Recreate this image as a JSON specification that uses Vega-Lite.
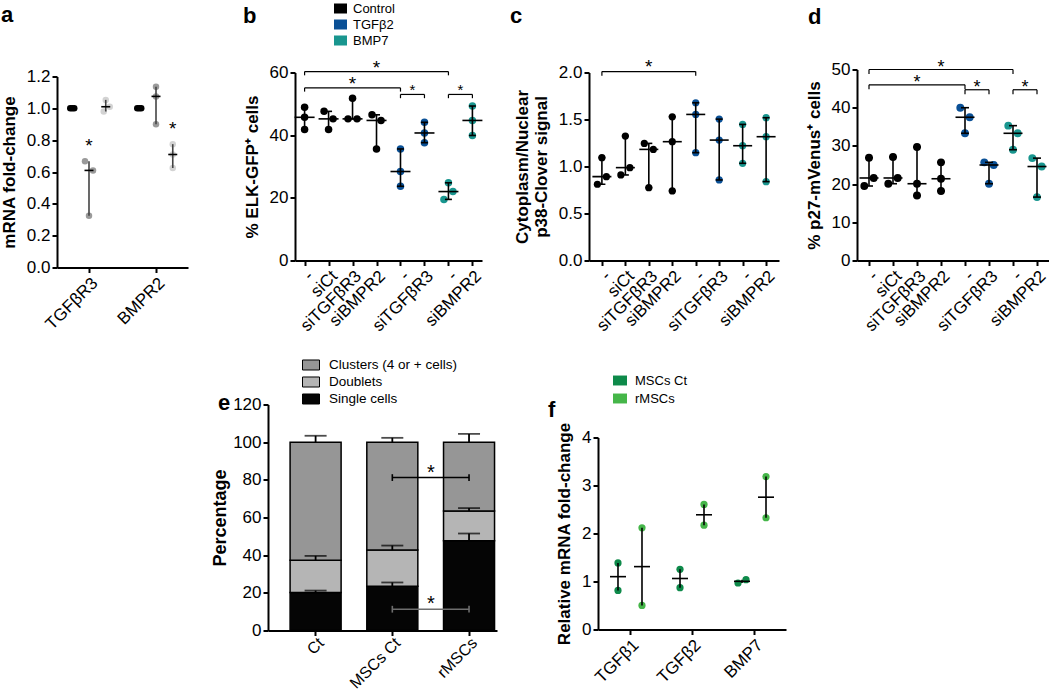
{
  "$schema": "https://vega.github.io/schema/vega-lite/v6.json",
  "padding": {"left": 0, "top": 1.5, "right": 0, "bottom": 0},
  "background": "white",
  "bounds": "flush",
  "columns": 7,
  "align": "each",
  "spacing": {"row": 137, "column": 0},
  "resolve": {"scale": {"color": "independent", "xOffset": "independent"}, "legend": {"color": "independent"}},
  "config": {
    "font": "Liberation Sans",
    "view": {"stroke": null},
    "axis": {"domainColor": "#000", "domainWidth": 2, "tickColor": "#000", "tickWidth": 2, "tickSize": 5, "labelFontSize": 17, "labelColor": "#000", "labelFont": "Liberation Sans", "titleFont": "Liberation Sans", "titleFontSize": 17, "titleFontWeight": "bold", "titleColor": "#000", "grid": false, "labelPadding": 2, "titlePadding": 8, "labelOverlap": false},
    "axisX": {"labelAngle": -45},
    "legend": {"padding": 0, "labelColor": "#000", "labelFont": "Liberation Sans"},
    "title": {"fontSize": 22, "fontWeight": "bold", "anchor": "start", "frame": "group", "color": "#000", "font": "Liberation Sans", "offset": 0}
  },
  "datasets": {
    "a": [
      {"slot": "TGFβR3|siCt", "treat": "siCt", "lane": "l", "v": 1.0},
      {"slot": "TGFβR3|siCt", "treat": "siCt", "lane": "C", "v": 1.0},
      {"slot": "TGFβR3|siCt", "treat": "siCt", "lane": "r", "v": 1.0},
      {"slot": "TGFβR3|siTGFβR3", "treat": "siTGFβR3", "lane": "L", "v": 0.667},
      {"slot": "TGFβR3|siTGFβR3", "treat": "siTGFβR3", "lane": "R", "v": 0.61},
      {"slot": "TGFβR3|siTGFβR3", "treat": "siTGFβR3", "lane": "C", "v": 0.325},
      {"slot": "TGFβR3|siBMPR2", "treat": "siBMPR2", "lane": "C", "v": 1.053},
      {"slot": "TGFβR3|siBMPR2", "treat": "siBMPR2", "lane": "R", "v": 1.01},
      {"slot": "TGFβR3|siBMPR2", "treat": "siBMPR2", "lane": "l", "v": 0.98},
      {"slot": "BMPR2|siCt", "treat": "siCt", "lane": "l", "v": 1.0},
      {"slot": "BMPR2|siCt", "treat": "siCt", "lane": "C", "v": 1.0},
      {"slot": "BMPR2|siCt", "treat": "siCt", "lane": "r", "v": 1.0},
      {"slot": "BMPR2|siTGFβR3", "treat": "siTGFβR3", "lane": "C", "v": 1.135},
      {"slot": "BMPR2|siTGFβR3", "treat": "siTGFβR3", "lane": "C", "v": 1.075},
      {"slot": "BMPR2|siTGFβR3", "treat": "siTGFβR3", "lane": "C", "v": 0.9},
      {"slot": "BMPR2|siBMPR2", "treat": "siBMPR2", "lane": "C", "v": 0.775},
      {"slot": "BMPR2|siBMPR2", "treat": "siBMPR2", "lane": "C", "v": 0.71},
      {"slot": "BMPR2|siBMPR2", "treat": "siBMPR2", "lane": "C", "v": 0.625}
    ],
    "aStar": [
      {"slot": "TGFβR3|siTGFβR3", "v": 0.724},
      {"slot": "BMPR2|siBMPR2", "v": 0.83}
    ],
    "b": [
      {"grp": "Control|-", "treat": "Control", "lane": "C", "v": 48.9},
      {"grp": "Control|-", "treat": "Control", "lane": "C", "v": 45.7},
      {"grp": "Control|-", "treat": "Control", "lane": "C", "v": 41.8},
      {"grp": "Control|siCt", "treat": "Control", "lane": "L", "v": 47.6},
      {"grp": "Control|siCt", "treat": "Control", "lane": "R", "v": 45.2},
      {"grp": "Control|siCt", "treat": "Control", "lane": "C", "v": 41.8},
      {"grp": "Control|siTGFβR3", "treat": "Control", "lane": "C", "v": 51.8},
      {"grp": "Control|siTGFβR3", "treat": "Control", "lane": "L", "v": 45.2},
      {"grp": "Control|siTGFβR3", "treat": "Control", "lane": "R", "v": 45.2},
      {"grp": "Control|siBMPR2", "treat": "Control", "lane": "L", "v": 46.5},
      {"grp": "Control|siBMPR2", "treat": "Control", "lane": "R", "v": 44.7},
      {"grp": "Control|siBMPR2", "treat": "Control", "lane": "C", "v": 35.6},
      {"grp": "TGFβ2|-", "treat": "TGFβ2", "lane": "C", "v": 35.6},
      {"grp": "TGFβ2|-", "treat": "TGFβ2", "lane": "C", "v": 28.4},
      {"grp": "TGFβ2|-", "treat": "TGFβ2", "lane": "C", "v": 23.7},
      {"grp": "TGFβ2|siTGFβR3", "treat": "TGFβ2", "lane": "C", "v": 44.1},
      {"grp": "TGFβ2|siTGFβR3", "treat": "TGFβ2", "lane": "C", "v": 40.7},
      {"grp": "TGFβ2|siTGFβR3", "treat": "TGFβ2", "lane": "C", "v": 37.6},
      {"grp": "BMP7|-", "treat": "BMP7", "lane": "C", "v": 24.8},
      {"grp": "BMP7|-", "treat": "BMP7", "lane": "R", "v": 22.0},
      {"grp": "BMP7|-", "treat": "BMP7", "lane": "L", "v": 19.5},
      {"grp": "BMP7|siBMPR2", "treat": "BMP7", "lane": "C", "v": 49.3},
      {"grp": "BMP7|siBMPR2", "treat": "BMP7", "lane": "C", "v": 44.7},
      {"grp": "BMP7|siBMPR2", "treat": "BMP7", "lane": "C", "v": 39.9}
    ],
    "bBr": [
      {"from": "Control|-", "to": "BMP7|-", "y": 60.3, "lo": 59.1, "mid": "Control|siBMPR2", "half": false},
      {"from": "Control|-", "to": "TGFβ2|-", "y": 55.1, "lo": 53.9, "mid": "Control|siTGFβR3", "half": false},
      {"from": "TGFβ2|-", "to": "TGFβ2|siTGFβR3", "y": 53.0, "lo": 51.8, "mid": "TGFβ2|-", "half": true},
      {"from": "BMP7|-", "to": "BMP7|siBMPR2", "y": 53.0, "lo": 51.8, "mid": "BMP7|-", "half": true}
    ],
    "c": [
      {"grp": "Control|-", "treat": "Control", "lane": "C", "v": 1.094},
      {"grp": "Control|-", "treat": "Control", "lane": "R", "v": 0.892},
      {"grp": "Control|-", "treat": "Control", "lane": "L", "v": 0.811},
      {"grp": "Control|siCt", "treat": "Control", "lane": "C", "v": 1.324},
      {"grp": "Control|siCt", "treat": "Control", "lane": "R", "v": 0.988},
      {"grp": "Control|siCt", "treat": "Control", "lane": "L", "v": 0.91},
      {"grp": "Control|siTGFβR3", "treat": "Control", "lane": "L", "v": 1.246},
      {"grp": "Control|siTGFβR3", "treat": "Control", "lane": "R", "v": 1.182},
      {"grp": "Control|siTGFβR3", "treat": "Control", "lane": "C", "v": 0.775},
      {"grp": "Control|siBMPR2", "treat": "Control", "lane": "C", "v": 1.529},
      {"grp": "Control|siBMPR2", "treat": "Control", "lane": "C", "v": 1.264},
      {"grp": "Control|siBMPR2", "treat": "Control", "lane": "C", "v": 0.74},
      {"grp": "TGFβ2|-", "treat": "TGFβ2", "lane": "C", "v": 1.678},
      {"grp": "TGFβ2|-", "treat": "TGFβ2", "lane": "C", "v": 1.554},
      {"grp": "TGFβ2|-", "treat": "TGFβ2", "lane": "C", "v": 1.147},
      {"grp": "TGFβ2|siTGFβR3", "treat": "TGFβ2", "lane": "C", "v": 1.504},
      {"grp": "TGFβ2|siTGFβR3", "treat": "TGFβ2", "lane": "C", "v": 1.281},
      {"grp": "TGFβ2|siTGFβR3", "treat": "TGFβ2", "lane": "C", "v": 0.857},
      {"grp": "BMP7|-", "treat": "BMP7", "lane": "C", "v": 1.448},
      {"grp": "BMP7|-", "treat": "BMP7", "lane": "C", "v": 1.221},
      {"grp": "BMP7|-", "treat": "BMP7", "lane": "C", "v": 1.034},
      {"grp": "BMP7|siBMPR2", "treat": "BMP7", "lane": "C", "v": 1.519},
      {"grp": "BMP7|siBMPR2", "treat": "BMP7", "lane": "C", "v": 1.317},
      {"grp": "BMP7|siBMPR2", "treat": "BMP7", "lane": "C", "v": 0.839}
    ],
    "cBr": [
      {"from": "Control|-", "to": "TGFβ2|-", "y": 2.01, "lo": 1.965, "mid": "Control|siTGFβR3", "half": false}
    ],
    "d": [
      {"grp": "Control|-", "treat": "Control", "lane": "C", "v": 26.9},
      {"grp": "Control|-", "treat": "Control", "lane": "R", "v": 21.6},
      {"grp": "Control|-", "treat": "Control", "lane": "L", "v": 19.5},
      {"grp": "Control|siCt", "treat": "Control", "lane": "C", "v": 27.1},
      {"grp": "Control|siCt", "treat": "Control", "lane": "R", "v": 21.6},
      {"grp": "Control|siCt", "treat": "Control", "lane": "L", "v": 20.1},
      {"grp": "Control|siTGFβR3", "treat": "Control", "lane": "C", "v": 29.7},
      {"grp": "Control|siTGFβR3", "treat": "Control", "lane": "C", "v": 20.1},
      {"grp": "Control|siTGFβR3", "treat": "Control", "lane": "C", "v": 17.0},
      {"grp": "Control|siBMPR2", "treat": "Control", "lane": "C", "v": 25.7},
      {"grp": "Control|siBMPR2", "treat": "Control", "lane": "C", "v": 21.4},
      {"grp": "Control|siBMPR2", "treat": "Control", "lane": "C", "v": 18.2},
      {"grp": "TGFβ2|-", "treat": "TGFβ2", "lane": "L", "v": 40.0},
      {"grp": "TGFβ2|-", "treat": "TGFβ2", "lane": "R", "v": 37.5},
      {"grp": "TGFβ2|-", "treat": "TGFβ2", "lane": "C", "v": 33.3},
      {"grp": "TGFβ2|siTGFβR3", "treat": "TGFβ2", "lane": "L", "v": 25.7},
      {"grp": "TGFβ2|siTGFβR3", "treat": "TGFβ2", "lane": "R", "v": 25.0},
      {"grp": "TGFβ2|siTGFβR3", "treat": "TGFβ2", "lane": "C", "v": 20.1},
      {"grp": "BMP7|-", "treat": "BMP7", "lane": "L", "v": 35.3},
      {"grp": "BMP7|-", "treat": "BMP7", "lane": "R", "v": 33.3},
      {"grp": "BMP7|-", "treat": "BMP7", "lane": "C", "v": 29.0},
      {"grp": "BMP7|siBMPR2", "treat": "BMP7", "lane": "L", "v": 26.8},
      {"grp": "BMP7|siBMPR2", "treat": "BMP7", "lane": "R", "v": 24.6},
      {"grp": "BMP7|siBMPR2", "treat": "BMP7", "lane": "C", "v": 16.6}
    ],
    "dBr": [
      {"from": "Control|-", "to": "BMP7|-", "y": 50.0, "lo": 48.8, "mid": "Control|siBMPR2", "half": false},
      {"from": "Control|-", "to": "TGFβ2|-", "y": 46.0, "lo": 44.8, "mid": "Control|siTGFβR3", "half": false},
      {"from": "TGFβ2|-", "to": "TGFβ2|siTGFβR3", "y": 44.7, "lo": 43.5, "mid": "TGFβ2|-", "half": true},
      {"from": "BMP7|-", "to": "BMP7|siBMPR2", "y": 44.7, "lo": 43.5, "mid": "BMP7|-", "half": true}
    ],
    "e": [
      {"sample": "Ct", "type": "Single cells", "ord": 1, "value": 20.2, "cap": 21.2},
      {"sample": "Ct", "type": "Doublets", "ord": 2, "value": 17.1, "cap": 39.6},
      {"sample": "Ct", "type": "Clusters (4 or + cells)", "ord": 3, "value": 62.7, "cap": 103.4},
      {"sample": "MSCs Ct", "type": "Single cells", "ord": 1, "value": 23.5, "cap": 25.5},
      {"sample": "MSCs Ct", "type": "Doublets", "ord": 2, "value": 19.2, "cap": 45.1},
      {"sample": "MSCs Ct", "type": "Clusters (4 or + cells)", "ord": 3, "value": 57.3, "cap": 102.3},
      {"sample": "rMSCs", "type": "Single cells", "ord": 1, "value": 47.6, "cap": 51.5},
      {"sample": "rMSCs", "type": "Doublets", "ord": 2, "value": 15.9, "cap": 65.0},
      {"sample": "rMSCs", "type": "Clusters (4 or + cells)", "ord": 3, "value": 36.5, "cap": 104.4}
    ],
    "eBr": [
      {"br": "up", "sample": "MSCs Ct", "y": 81.2, "lo": 79.4, "hi": 83.0},
      {"br": "up", "sample": "rMSCs", "y": 81.2, "lo": 79.4, "hi": 83.0},
      {"br": "down", "sample": "MSCs Ct", "y": 11.3, "lo": 9.5, "hi": 13.1},
      {"br": "down", "sample": "rMSCs", "y": 11.3, "lo": 9.5, "hi": 13.1}
    ],
    "f": [
      {"gene": "TGFβ1", "group": "MSCs Ct", "pos": "MSCs Ct", "v": 1.387},
      {"gene": "TGFβ1", "group": "MSCs Ct", "pos": "MSCs Ct", "v": 0.815},
      {"gene": "TGFβ1", "group": "rMSCs", "pos": "rMSCs", "v": 2.118},
      {"gene": "TGFβ1", "group": "rMSCs", "pos": "rMSCs", "v": 0.502},
      {"gene": "TGFβ2", "group": "MSCs Ct", "pos": "MSCs Ct", "v": 1.254},
      {"gene": "TGFβ2", "group": "MSCs Ct", "pos": "MSCs Ct", "v": 0.871},
      {"gene": "TGFβ2", "group": "rMSCs", "pos": "rMSCs", "v": 2.606},
      {"gene": "TGFβ2", "group": "rMSCs", "pos": "rMSCs", "v": 2.174},
      {"gene": "BMP7", "group": "MSCs Ct", "pos": "MSCs Ct L", "v": 0.969},
      {"gene": "BMP7", "group": "MSCs Ct", "pos": "MSCs Ct R", "v": 1.038},
      {"gene": "BMP7", "group": "rMSCs", "pos": "rMSCs", "v": 3.185},
      {"gene": "BMP7", "group": "rMSCs", "pos": "rMSCs", "v": 2.328}
    ]
  },
  "concat": [
    {
      "width": 131, "height": 198,
      "title": {"text": "a", "dx": -56, "dy": -37},
      "layer": [
        {"data": {"name": "a"}, "mark": {"type": "circle", "size": 42, "opacity": 1},
         "encoding": {
           "x": {"field": "slot", "type": "nominal", "title": null, "scale": {"type": "point", "domain": ["TGFβR3|siCt", "TGFβR3|siTGFβR3", "TGFβR3|siBMPR2", "gap", "BMPR2|siCt", "BMPR2|siTGFβR3", "BMPR2|siBMPR2"], "padding": 0.91},
                 "axis": {"values": ["TGFβR3|siTGFβR3", "BMPR2|siTGFβR3"], "labelExpr": "split(datum.value, '|')[0]"}},
           "xOffset": {"field": "lane", "type": "nominal", "scale": {"type": "point", "domain": ["L", "l", "C", "r", "R"], "range": [-4, 4], "padding": 0}},
           "y": {"field": "v", "type": "quantitative", "title": "mRNA fold-change", "scale": {"domain": [0, 1.2], "range": [198, 7], "nice": false}, "axis": {"values": [0, 0.2, 0.4, 0.6, 0.8, 1.0, 1.2], "format": ".1f", "tickCount": 12}},
           "color": {"field": "treat", "type": "nominal", "scale": {"domain": ["siCt", "siTGFβR3", "siBMPR2"], "range": ["#000000", "#9a9a9a", "#d3d3d3"]}, "legend": null}
         }},
        {"data": {"name": "a"}, "mark": {"type": "rule", "color": "#444", "strokeWidth": 1.6},
         "encoding": {
           "x": {"field": "slot", "type": "nominal", "title": null, "scale": {"type": "point", "domain": ["TGFβR3|siCt", "TGFβR3|siTGFβR3", "TGFβR3|siBMPR2", "gap", "BMPR2|siCt", "BMPR2|siTGFβR3", "BMPR2|siBMPR2"], "padding": 0.91}},
           "y": {"aggregate": "min", "field": "v", "type": "quantitative", "title": "mRNA fold-change"},
           "y2": {"aggregate": "max", "field": "v"}
         }},
        {"data": {"name": "a"}, "mark": {"type": "tick", "color": "#000", "size": 9, "thickness": 1.6},
         "encoding": {
           "x": {"field": "slot", "type": "nominal", "title": null, "scale": {"type": "point", "domain": ["TGFβR3|siCt", "TGFβR3|siTGFβR3", "TGFβR3|siBMPR2", "gap", "BMPR2|siCt", "BMPR2|siTGFβR3", "BMPR2|siBMPR2"], "padding": 0.91}},
           "y": {"aggregate": "median", "field": "v", "type": "quantitative", "title": "mRNA fold-change"}
         }},
        {"data": {"name": "aStar"}, "mark": {"type": "text", "text": "*", "fontSize": 19, "baseline": "alphabetic", "color": "#000"},
         "encoding": {
           "x": {"field": "slot", "type": "nominal", "title": null, "scale": {"type": "point", "domain": ["TGFβR3|siCt", "TGFβR3|siTGFβR3", "TGFβR3|siBMPR2", "gap", "BMPR2|siCt", "BMPR2|siTGFβR3", "BMPR2|siBMPR2"], "padding": 0.91}},
           "y": {"field": "v", "type": "quantitative", "title": "mRNA fold-change"}
         }}
      ]
    },
    {"width": 80, "height": 10, "data": {"values": []}, "mark": "point"},
    {
      "width": 214, "height": 191,
      "title": {"text": "b", "dx": -25, "dy": 30},
      "layer": [
        {"data": {"name": "b"}, "mark": {"type": "circle", "size": 56, "opacity": 1},
         "encoding": {
           "x": {"field": "grp", "type": "nominal", "title": null, "scale": {"type": "point", "domain": ["Control|-", "Control|siCt", "Control|siTGFβR3", "Control|siBMPR2", "TGFβ2|-", "TGFβ2|siTGFβR3", "BMP7|-", "BMP7|siBMPR2"], "padding": 0.4, "range": [27, 214]},
                 "axis": {"labelExpr": "split(datum.value, '|')[1]"}},
           "xOffset": {"field": "lane", "type": "nominal", "scale": {"type": "point", "domain": ["L", "C", "R"], "range": [-4.5, 4.5], "padding": 0}},
           "y": {"field": "v", "type": "quantitative", "title": "% ELK-GFP⁺ cells", "scale": {"domain": [0, 60], "range": [191, 3], "nice": false}, "axis": {"values": [0, 20, 40, 60], "offset": -27, "tickCount": 12}},
           "color": {"field": "treat", "type": "nominal", "scale": {"domain": ["Control", "TGFβ2", "BMP7"], "range": ["#000000", "#0a5096", "#19968f"]},
                     "legend": {"orient": "none", "legendX": 66, "legendY": -67.5, "title": null, "symbolType": "M-1,-0.77H1V0.77H-1Z", "symbolSize": 169, "symbolStrokeWidth": 0, "symbolOpacity": 1, "labelFontSize": 13, "labelOffset": 6, "rowPadding": 2}}
         }},
        {"data": {"name": "b"}, "mark": {"type": "rule", "color": "#000", "strokeWidth": 1.6},
         "encoding": {
           "x": {"field": "grp", "type": "nominal", "title": null, "scale": {"type": "point", "domain": ["Control|-", "Control|siCt", "Control|siTGFβR3", "Control|siBMPR2", "TGFβ2|-", "TGFβ2|siTGFβR3", "BMP7|-", "BMP7|siBMPR2"], "padding": 0.4, "range": [27, 214]}},
           "y": {"aggregate": "min", "field": "v", "type": "quantitative", "title": "% ELK-GFP⁺ cells"},
           "y2": {"aggregate": "max", "field": "v"}
         }},
        {"data": {"name": "b"}, "mark": {"type": "tick", "color": "#000", "size": 20, "thickness": 1.6},
         "encoding": {
           "x": {"field": "grp", "type": "nominal", "title": null, "scale": {"type": "point", "domain": ["Control|-", "Control|siCt", "Control|siTGFβR3", "Control|siBMPR2", "TGFβ2|-", "TGFβ2|siTGFβR3", "BMP7|-", "BMP7|siBMPR2"], "padding": 0.4, "range": [27, 214]}},
           "y": {"aggregate": "median", "field": "v", "type": "quantitative", "title": "% ELK-GFP⁺ cells"}
         }},
        {"data": {"name": "b"}, "mark": {"type": "tick", "color": "#000", "size": 7, "thickness": 1.6},
         "encoding": {
           "x": {"field": "grp", "type": "nominal", "title": null, "scale": {"type": "point", "domain": ["Control|-", "Control|siCt", "Control|siTGFβR3", "Control|siBMPR2", "TGFβ2|-", "TGFβ2|siTGFβR3", "BMP7|-", "BMP7|siBMPR2"], "padding": 0.4, "range": [27, 214]}},
           "y": {"aggregate": "min", "field": "v", "type": "quantitative", "title": "% ELK-GFP⁺ cells"}
         }},
        {"data": {"name": "b"}, "mark": {"type": "tick", "color": "#000", "size": 7, "thickness": 1.6},
         "encoding": {
           "x": {"field": "grp", "type": "nominal", "title": null, "scale": {"type": "point", "domain": ["Control|-", "Control|siCt", "Control|siTGFβR3", "Control|siBMPR2", "TGFβ2|-", "TGFβ2|siTGFβR3", "BMP7|-", "BMP7|siBMPR2"], "padding": 0.4, "range": [27, 214]}},
           "y": {"aggregate": "max", "field": "v", "type": "quantitative", "title": "% ELK-GFP⁺ cells"}
         }},
        {"data": {"name": "bBr"}, "mark": {"type": "rule", "color": "#000", "strokeWidth": 1.2},
         "encoding": {
           "x": {"field": "from", "type": "nominal", "title": null, "scale": {"type": "point", "domain": ["Control|-", "Control|siCt", "Control|siTGFβR3", "Control|siBMPR2", "TGFβ2|-", "TGFβ2|siTGFβR3", "BMP7|-", "BMP7|siBMPR2"], "padding": 0.4, "range": [27, 214]}},
           "x2": {"field": "to"},
           "y": {"field": "y", "type": "quantitative", "title": "% ELK-GFP⁺ cells"}
         }},
        {"data": {"name": "bBr"}, "mark": {"type": "rule", "color": "#000", "strokeWidth": 1.2},
         "encoding": {
           "x": {"field": "from", "type": "nominal", "title": null, "scale": {"type": "point", "domain": ["Control|-", "Control|siCt", "Control|siTGFβR3", "Control|siBMPR2", "TGFβ2|-", "TGFβ2|siTGFβR3", "BMP7|-", "BMP7|siBMPR2"], "padding": 0.4, "range": [27, 214]}},
           "y": {"field": "lo", "type": "quantitative", "title": "% ELK-GFP⁺ cells"},
           "y2": {"field": "y"}
         }},
        {"data": {"name": "bBr"}, "mark": {"type": "rule", "color": "#000", "strokeWidth": 1.2},
         "encoding": {
           "x": {"field": "to", "type": "nominal", "title": null, "scale": {"type": "point", "domain": ["Control|-", "Control|siCt", "Control|siTGFβR3", "Control|siBMPR2", "TGFβ2|-", "TGFβ2|siTGFβR3", "BMP7|-", "BMP7|siBMPR2"], "padding": 0.4, "range": [27, 214]}},
           "y": {"field": "lo", "type": "quantitative", "title": "% ELK-GFP⁺ cells"},
           "y2": {"field": "y"}
         }},
        {"data": {"name": "bBr"}, "transform": [{"filter": "!datum.half"}], "mark": {"type": "text", "text": "*", "fontSize": 19, "baseline": "alphabetic", "color": "#000", "dy": 2},
         "encoding": {
           "x": {"field": "mid", "type": "nominal", "title": null, "scale": {"type": "point", "domain": ["Control|-", "Control|siCt", "Control|siTGFβR3", "Control|siBMPR2", "TGFβ2|-", "TGFβ2|siTGFβR3", "BMP7|-", "BMP7|siBMPR2"], "padding": 0.4, "range": [27, 214]}},
           "y": {"field": "y", "type": "quantitative", "title": "% ELK-GFP⁺ cells"}
         }},
        {"data": {"name": "bBr"}, "transform": [{"filter": "datum.half"}], "mark": {"type": "text", "text": "*", "fontSize": 15, "baseline": "alphabetic", "color": "#000", "dx": 12, "dy": 1},
         "encoding": {
           "x": {"field": "mid", "type": "nominal", "title": null, "scale": {"type": "point", "domain": ["Control|-", "Control|siCt", "Control|siTGFβR3", "Control|siBMPR2", "TGFβ2|-", "TGFβ2|siTGFβR3", "BMP7|-", "BMP7|siBMPR2"], "padding": 0.4, "range": [27, 214]}},
           "y": {"field": "y", "type": "quantitative", "title": "% ELK-GFP⁺ cells"}
         }}
      ]
    },
    {"width": 92, "height": 10, "data": {"values": []}, "mark": "point"},
    {
      "width": 190, "height": 191,
      "title": {"text": "c", "dx": -79, "dy": -26},
      "layer": [
        {"data": {"name": "c"}, "mark": {"type": "circle", "size": 52, "opacity": 1},
         "encoding": {
           "x": {"field": "grp", "type": "nominal", "title": null, "scale": {"type": "point", "domain": ["Control|-", "Control|siCt", "Control|siTGFβR3", "Control|siBMPR2", "TGFβ2|-", "TGFβ2|siTGFβR3", "BMP7|-", "BMP7|siBMPR2"], "padding": 0.55},
                 "axis": {"labelExpr": "split(datum.value, '|')[1]"}},
           "xOffset": {"field": "lane", "type": "nominal", "scale": {"type": "point", "domain": ["L", "C", "R"], "range": [-4.5, 4.5], "padding": 0}},
           "y": {"field": "v", "type": "quantitative", "title": ["Cytoplasm/Nuclear", "p38-Clover signal"], "scale": {"domain": [0, 2], "range": [191, 3], "nice": false}, "axis": {"values": [0, 0.5, 1, 1.5, 2], "format": ".1f", "titleLineHeight": 19, "tickCount": 12}},
           "color": {"field": "treat", "type": "nominal", "scale": {"domain": ["Control", "TGFβ2", "BMP7"], "range": ["#000000", "#0a5096", "#19968f"]}, "legend": null}
         }},
        {"data": {"name": "c"}, "mark": {"type": "rule", "color": "#000", "strokeWidth": 1.6},
         "encoding": {
           "x": {"field": "grp", "type": "nominal", "title": null, "scale": {"type": "point", "domain": ["Control|-", "Control|siCt", "Control|siTGFβR3", "Control|siBMPR2", "TGFβ2|-", "TGFβ2|siTGFβR3", "BMP7|-", "BMP7|siBMPR2"], "padding": 0.55}},
           "y": {"aggregate": "min", "field": "v", "type": "quantitative", "title": ["Cytoplasm/Nuclear", "p38-Clover signal"]},
           "y2": {"aggregate": "max", "field": "v"}
         }},
        {"data": {"name": "c"}, "mark": {"type": "tick", "color": "#000", "size": 19, "thickness": 1.6},
         "encoding": {
           "x": {"field": "grp", "type": "nominal", "title": null, "scale": {"type": "point", "domain": ["Control|-", "Control|siCt", "Control|siTGFβR3", "Control|siBMPR2", "TGFβ2|-", "TGFβ2|siTGFβR3", "BMP7|-", "BMP7|siBMPR2"], "padding": 0.55}},
           "y": {"aggregate": "median", "field": "v", "type": "quantitative", "title": ["Cytoplasm/Nuclear", "p38-Clover signal"]}
         }},
        {"data": {"name": "c"}, "mark": {"type": "tick", "color": "#000", "size": 7, "thickness": 1.6},
         "encoding": {
           "x": {"field": "grp", "type": "nominal", "title": null, "scale": {"type": "point", "domain": ["Control|-", "Control|siCt", "Control|siTGFβR3", "Control|siBMPR2", "TGFβ2|-", "TGFβ2|siTGFβR3", "BMP7|-", "BMP7|siBMPR2"], "padding": 0.55}},
           "y": {"aggregate": "min", "field": "v", "type": "quantitative", "title": ["Cytoplasm/Nuclear", "p38-Clover signal"]}
         }},
        {"data": {"name": "c"}, "mark": {"type": "tick", "color": "#000", "size": 7, "thickness": 1.6},
         "encoding": {
           "x": {"field": "grp", "type": "nominal", "title": null, "scale": {"type": "point", "domain": ["Control|-", "Control|siCt", "Control|siTGFβR3", "Control|siBMPR2", "TGFβ2|-", "TGFβ2|siTGFβR3", "BMP7|-", "BMP7|siBMPR2"], "padding": 0.55}},
           "y": {"aggregate": "max", "field": "v", "type": "quantitative", "title": ["Cytoplasm/Nuclear", "p38-Clover signal"]}
         }},
        {"data": {"name": "cBr"}, "mark": {"type": "rule", "color": "#000", "strokeWidth": 1.2},
         "encoding": {
           "x": {"field": "from", "type": "nominal", "title": null, "scale": {"type": "point", "domain": ["Control|-", "Control|siCt", "Control|siTGFβR3", "Control|siBMPR2", "TGFβ2|-", "TGFβ2|siTGFβR3", "BMP7|-", "BMP7|siBMPR2"], "padding": 0.55}},
           "x2": {"field": "to"},
           "y": {"field": "y", "type": "quantitative", "title": ["Cytoplasm/Nuclear", "p38-Clover signal"]}
         }},
        {"data": {"name": "cBr"}, "mark": {"type": "rule", "color": "#000", "strokeWidth": 1.2},
         "encoding": {
           "x": {"field": "from", "type": "nominal", "title": null, "scale": {"type": "point", "domain": ["Control|-", "Control|siCt", "Control|siTGFβR3", "Control|siBMPR2", "TGFβ2|-", "TGFβ2|siTGFβR3", "BMP7|-", "BMP7|siBMPR2"], "padding": 0.55}},
           "y": {"field": "lo", "type": "quantitative", "title": ["Cytoplasm/Nuclear", "p38-Clover signal"]},
           "y2": {"field": "y"}
         }},
        {"data": {"name": "cBr"}, "mark": {"type": "rule", "color": "#000", "strokeWidth": 1.2},
         "encoding": {
           "x": {"field": "to", "type": "nominal", "title": null, "scale": {"type": "point", "domain": ["Control|-", "Control|siCt", "Control|siTGFβR3", "Control|siBMPR2", "TGFβ2|-", "TGFβ2|siTGFβR3", "BMP7|-", "BMP7|siBMPR2"], "padding": 0.55}},
           "y": {"field": "lo", "type": "quantitative", "title": ["Cytoplasm/Nuclear", "p38-Clover signal"]},
           "y2": {"field": "y"}
         }},
        {"data": {"name": "cBr"}, "mark": {"type": "text", "text": "*", "fontSize": 19, "baseline": "alphabetic", "color": "#000", "dy": 1},
         "encoding": {
           "x": {"field": "mid", "type": "nominal", "title": null, "scale": {"type": "point", "domain": ["Control|-", "Control|siCt", "Control|siTGFβR3", "Control|siBMPR2", "TGFβ2|-", "TGFβ2|siTGFβR3", "BMP7|-", "BMP7|siBMPR2"], "padding": 0.55}},
           "y": {"field": "y", "type": "quantitative", "title": ["Cytoplasm/Nuclear", "p38-Clover signal"]}
         }}
      ]
    },
    {"width": 71, "height": 10, "data": {"values": []}, "mark": "point"},
    {
      "width": 192, "height": 191,
      "title": {"text": "d", "dx": -49, "dy": -26},
      "layer": [
        {"data": {"name": "d"}, "mark": {"type": "circle", "size": 62, "opacity": 1},
         "encoding": {
           "x": {"field": "grp", "type": "nominal", "title": null, "scale": {"type": "point", "domain": ["Control|-", "Control|siCt", "Control|siTGFβR3", "Control|siBMPR2", "TGFβ2|-", "TGFβ2|siTGFβR3", "BMP7|-", "BMP7|siBMPR2"], "padding": 0.5},
                 "axis": {"labelExpr": "split(datum.value, '|')[1]"}},
           "xOffset": {"field": "lane", "type": "nominal", "scale": {"type": "point", "domain": ["L", "C", "R"], "range": [-4.7, 4.7], "padding": 0}},
           "y": {"field": "v", "type": "quantitative", "title": "% p27-mVenus⁺ cells", "scale": {"domain": [0, 50], "range": [191, 0], "nice": false}, "axis": {"values": [0, 10, 20, 30, 40, 50], "tickCount": 12}},
           "color": {"field": "treat", "type": "nominal", "scale": {"domain": ["Control", "TGFβ2", "BMP7"], "range": ["#000000", "#0a5096", "#19968f"]}, "legend": null}
         }},
        {"data": {"name": "d"}, "mark": {"type": "rule", "color": "#000", "strokeWidth": 1.6},
         "encoding": {
           "x": {"field": "grp", "type": "nominal", "title": null, "scale": {"type": "point", "domain": ["Control|-", "Control|siCt", "Control|siTGFβR3", "Control|siBMPR2", "TGFβ2|-", "TGFβ2|siTGFβR3", "BMP7|-", "BMP7|siBMPR2"], "padding": 0.5}},
           "y": {"aggregate": "min", "field": "v", "type": "quantitative", "title": "% p27-mVenus⁺ cells"},
           "y2": {"aggregate": "max", "field": "v"}
         }},
        {"data": {"name": "d"}, "mark": {"type": "tick", "color": "#000", "size": 19, "thickness": 1.6},
         "encoding": {
           "x": {"field": "grp", "type": "nominal", "title": null, "scale": {"type": "point", "domain": ["Control|-", "Control|siCt", "Control|siTGFβR3", "Control|siBMPR2", "TGFβ2|-", "TGFβ2|siTGFβR3", "BMP7|-", "BMP7|siBMPR2"], "padding": 0.5}},
           "y": {"aggregate": "median", "field": "v", "type": "quantitative", "title": "% p27-mVenus⁺ cells"}
         }},
        {"data": {"name": "d"}, "mark": {"type": "tick", "color": "#000", "size": 8, "thickness": 1.6},
         "encoding": {
           "x": {"field": "grp", "type": "nominal", "title": null, "scale": {"type": "point", "domain": ["Control|-", "Control|siCt", "Control|siTGFβR3", "Control|siBMPR2", "TGFβ2|-", "TGFβ2|siTGFβR3", "BMP7|-", "BMP7|siBMPR2"], "padding": 0.5}},
           "y": {"aggregate": "min", "field": "v", "type": "quantitative", "title": "% p27-mVenus⁺ cells"}
         }},
        {"data": {"name": "d"}, "mark": {"type": "tick", "color": "#000", "size": 8, "thickness": 1.6},
         "encoding": {
           "x": {"field": "grp", "type": "nominal", "title": null, "scale": {"type": "point", "domain": ["Control|-", "Control|siCt", "Control|siTGFβR3", "Control|siBMPR2", "TGFβ2|-", "TGFβ2|siTGFβR3", "BMP7|-", "BMP7|siBMPR2"], "padding": 0.5}},
           "y": {"aggregate": "max", "field": "v", "type": "quantitative", "title": "% p27-mVenus⁺ cells"}
         }},
        {"data": {"name": "dBr"}, "mark": {"type": "rule", "color": "#000", "strokeWidth": 1.2},
         "encoding": {
           "x": {"field": "from", "type": "nominal", "title": null, "scale": {"type": "point", "domain": ["Control|-", "Control|siCt", "Control|siTGFβR3", "Control|siBMPR2", "TGFβ2|-", "TGFβ2|siTGFβR3", "BMP7|-", "BMP7|siBMPR2"], "padding": 0.5}},
           "x2": {"field": "to"},
           "y": {"field": "y", "type": "quantitative", "title": "% p27-mVenus⁺ cells"}
         }},
        {"data": {"name": "dBr"}, "mark": {"type": "rule", "color": "#000", "strokeWidth": 1.2},
         "encoding": {
           "x": {"field": "from", "type": "nominal", "title": null, "scale": {"type": "point", "domain": ["Control|-", "Control|siCt", "Control|siTGFβR3", "Control|siBMPR2", "TGFβ2|-", "TGFβ2|siTGFβR3", "BMP7|-", "BMP7|siBMPR2"], "padding": 0.5}},
           "y": {"field": "lo", "type": "quantitative", "title": "% p27-mVenus⁺ cells"},
           "y2": {"field": "y"}
         }},
        {"data": {"name": "dBr"}, "mark": {"type": "rule", "color": "#000", "strokeWidth": 1.2},
         "encoding": {
           "x": {"field": "to", "type": "nominal", "title": null, "scale": {"type": "point", "domain": ["Control|-", "Control|siCt", "Control|siTGFβR3", "Control|siBMPR2", "TGFβ2|-", "TGFβ2|siTGFβR3", "BMP7|-", "BMP7|siBMPR2"], "padding": 0.5}},
           "y": {"field": "lo", "type": "quantitative", "title": "% p27-mVenus⁺ cells"},
           "y2": {"field": "y"}
         }},
        {"data": {"name": "dBr"}, "transform": [{"filter": "!datum.half"}], "mark": {"type": "text", "text": "*", "fontSize": 18, "baseline": "alphabetic", "color": "#000", "dy": 3},
         "encoding": {
           "x": {"field": "mid", "type": "nominal", "title": null, "scale": {"type": "point", "domain": ["Control|-", "Control|siCt", "Control|siTGFβR3", "Control|siBMPR2", "TGFβ2|-", "TGFβ2|siTGFβR3", "BMP7|-", "BMP7|siBMPR2"], "padding": 0.5}},
           "y": {"field": "y", "type": "quantitative", "title": "% p27-mVenus⁺ cells"}
         }},
        {"data": {"name": "dBr"}, "transform": [{"filter": "datum.half"}], "mark": {"type": "text", "text": "*", "fontSize": 18, "baseline": "alphabetic", "color": "#000", "dx": 12, "dy": 3},
         "encoding": {
           "x": {"field": "mid", "type": "nominal", "title": null, "scale": {"type": "point", "domain": ["Control|-", "Control|siCt", "Control|siTGFβR3", "Control|siBMPR2", "TGFβ2|-", "TGFβ2|siTGFβR3", "BMP7|-", "BMP7|siBMPR2"], "padding": 0.5}},
           "y": {"field": "y", "type": "quantitative", "title": "% p27-mVenus⁺ cells"}
         }}
      ]
    },
    {"width": 131, "height": 10, "data": {"values": []}, "mark": "point"},
    {"width": 80, "height": 10, "data": {"values": []}, "mark": "point"},
    {
      "width": 229, "height": 226,
      "title": {"text": "e", "dx": -50, "dy": 63},
      "layer": [
        {"data": {"name": "e"}, "mark": {"type": "bar", "stroke": "#000", "strokeWidth": 1.5},
         "encoding": {
           "x": {"field": "sample", "type": "nominal", "title": null, "scale": {"domain": ["Ct", "MSCs Ct", "rMSCs"], "paddingInner": 0.335, "paddingOuter": 0.16, "align": 0.9}, "axis": {"labelPadding": -1, "labelFontSize": 16}},
           "y": {"field": "value", "type": "quantitative", "stack": "zero", "title": "Percentage", "scale": {"domain": [0, 120], "nice": false}, "axis": {"values": [0, 20, 40, 60, 80, 100, 120], "titleFontSize": 18, "titlePadding": 3, "tickCount": 12}},
           "order": {"field": "ord", "type": "quantitative"},
           "color": {"field": "type", "type": "nominal", "scale": {"domain": ["Clusters (4 or + cells)", "Doublets", "Single cells"], "range": ["#969696", "#b5b5b5", "#050505"]},
                     "legend": {"orient": "none", "legendX": 34, "legendY": -48.5, "title": null, "symbolType": "M-1,-0.59H1V0.59H-1Z", "symbolSize": 289, "symbolStrokeColor": "#000", "symbolStrokeWidth": 1, "symbolOpacity": 1, "labelFontSize": 13.5, "labelOffset": 9, "rowPadding": 0}}
         }},
        {"data": {"name": "e"},
         "transform": [{"stack": "value", "groupby": ["sample"], "sort": [{"field": "ord", "order": "ascending"}], "as": ["lo", "hi"]}],
         "mark": {"type": "rule", "color": "#000", "strokeWidth": 1.8},
         "encoding": {
           "x": {"field": "sample", "type": "nominal", "title": null},
           "y": {"field": "hi", "type": "quantitative", "title": "Percentage"},
           "y2": {"field": "cap"}
         }},
        {"data": {"name": "e"}, "mark": {"type": "tick", "color": "#000", "size": 22, "thickness": 1.8},
         "encoding": {
           "x": {"field": "sample", "type": "nominal", "title": null},
           "y": {"field": "cap", "type": "quantitative", "title": "Percentage"}
         }},
        {"data": {"name": "eBr"}, "transform": [{"filter": "datum.br == 'up'"}], "mark": {"type": "line", "color": "#000", "strokeWidth": 1.6},
         "encoding": {
           "x": {"field": "sample", "type": "nominal", "title": null},
           "y": {"field": "y", "type": "quantitative", "title": "Percentage"}
         }},
        {"data": {"name": "eBr"}, "transform": [{"filter": "datum.br == 'up'"}], "mark": {"type": "rule", "color": "#000", "strokeWidth": 1.6},
         "encoding": {
           "x": {"field": "sample", "type": "nominal", "title": null},
           "y": {"field": "lo", "type": "quantitative", "title": "Percentage"},
           "y2": {"field": "hi"}
         }},
        {"data": {"name": "eBr"}, "transform": [{"filter": "datum.br == 'down'"}], "mark": {"type": "line", "color": "#6e6e6e", "strokeWidth": 1.6},
         "encoding": {
           "x": {"field": "sample", "type": "nominal", "title": null},
           "y": {"field": "y", "type": "quantitative", "title": "Percentage"}
         }},
        {"data": {"name": "eBr"}, "transform": [{"filter": "datum.br == 'down'"}], "mark": {"type": "rule", "color": "#6e6e6e", "strokeWidth": 1.6},
         "encoding": {
           "x": {"field": "sample", "type": "nominal", "title": null},
           "y": {"field": "lo", "type": "quantitative", "title": "Percentage"},
           "y2": {"field": "hi"}
         }},
        {"data": {"name": "eBr"}, "transform": [{"filter": "datum.sample == 'MSCs Ct'"}], "mark": {"type": "text", "text": "*", "fontSize": 20, "baseline": "alphabetic", "color": "#000", "dx": 38.5, "dy": 1},
         "encoding": {
           "x": {"field": "sample", "type": "nominal", "title": null},
           "y": {"field": "y", "type": "quantitative", "title": "Percentage"}
         }}
      ]
    },
    {"width": 92, "height": 10, "data": {"values": []}, "mark": "point"},
    {
      "width": 197, "height": 225,
      "title": {"text": "f", "dx": -41, "dy": 52},
      "layer": [
        {"data": {"name": "f"}, "mark": {"type": "circle", "size": 52, "opacity": 1},
         "encoding": {
           "x": {"field": "gene", "type": "nominal", "title": null, "scale": {"type": "point", "domain": ["TGFβ1", "TGFβ2", "BMP7"], "padding": 0.516, "range": [9, 197]}},
           "xOffset": {"field": "pos", "type": "nominal", "scale": {"type": "point", "domain": ["MSCs Ct L", "MSCs Ct", "MSCs Ct R", "_1", "_2", "_3", "_4", "rMSCs"], "range": [-16, 12], "padding": 0}},
           "y": {"field": "v", "type": "quantitative", "title": "Relative mRNA fold-change", "scale": {"domain": [0, 4], "range": [225, 33], "nice": false}, "axis": {"values": [0, 1, 2, 3, 4], "format": "d", "offset": -9, "tickCount": 12}},
           "color": {"field": "group", "type": "nominal", "scale": {"domain": ["MSCs Ct", "rMSCs"], "range": ["#0e8a4a", "#45b649"]},
                     "legend": {"orient": "none", "legendX": 24, "legendY": -31, "title": null, "symbolType": "M-1,-0.71H1V0.71H-1Z", "symbolSize": 196, "symbolStrokeWidth": 0, "symbolOpacity": 1, "labelFontSize": 13, "labelOffset": 8, "rowPadding": 4}}
         }},
        {"data": {"name": "f"}, "mark": {"type": "rule", "color": "#000", "strokeWidth": 1.6},
         "encoding": {
           "x": {"field": "gene", "type": "nominal", "title": null, "scale": {"type": "point", "domain": ["TGFβ1", "TGFβ2", "BMP7"], "padding": 0.516, "range": [9, 197]}},
           "xOffset": {"field": "group", "type": "nominal", "scale": {"type": "point", "domain": ["MSCs Ct L", "MSCs Ct", "MSCs Ct R", "_1", "_2", "_3", "_4", "rMSCs"], "range": [-16, 12], "padding": 0}},
           "y": {"aggregate": "min", "field": "v", "type": "quantitative", "title": "Relative mRNA fold-change"},
           "y2": {"aggregate": "max", "field": "v"}
         }},
        {"data": {"name": "f"}, "mark": {"type": "tick", "color": "#000", "size": 16, "thickness": 1.6},
         "encoding": {
           "x": {"field": "gene", "type": "nominal", "title": null, "scale": {"type": "point", "domain": ["TGFβ1", "TGFβ2", "BMP7"], "padding": 0.516, "range": [9, 197]}},
           "xOffset": {"field": "group", "type": "nominal", "scale": {"type": "point", "domain": ["MSCs Ct L", "MSCs Ct", "MSCs Ct R", "_1", "_2", "_3", "_4", "rMSCs"], "range": [-16, 12], "padding": 0}},
           "y": {"aggregate": "mean", "field": "v", "type": "quantitative", "title": "Relative mRNA fold-change"}
         }}
      ]
    }
  ]
}
